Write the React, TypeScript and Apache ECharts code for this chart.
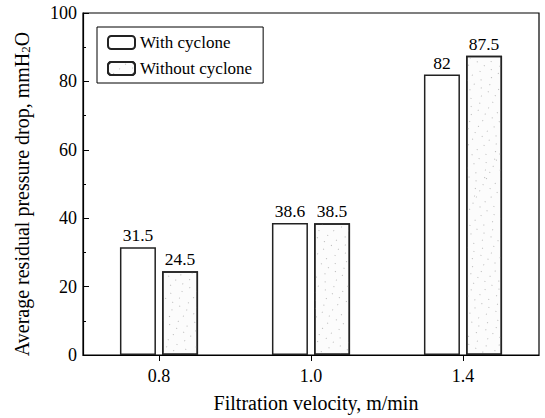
import React, { useEffect, useRef } from "react";
import * as echarts from "echarts";

const categories = ["0.8", "1.0", "1.4"];
const withCyclone = [31.5, 38.6, 82];
const withoutCyclone = [24.5, 38.5, 87.5];
const yTicks = [0, 20, 40, 60, 80, 100];

const FONT = "Liberation Serif";

export default function App() {
  const ref = useRef<HTMLDivElement>(null);
  useEffect(() => {
    if (!ref.current) return;
    const chart = echarts.init(ref.current, null, { renderer: "svg" });
    const labelStyle = {
      show: true,
      position: "top",
      distance: 3,
      fontFamily: FONT,
      fontSize: 17.5,
      color: "#000",
    };
    chart.setOption({
      animation: false,
      textStyle: { fontFamily: FONT, color: "#000" },
      grid: {
        left: 83,
        right: 6,
        top: 13,
        bottom: 62,
        show: true,
        borderColor: "#000",
        borderWidth: 1.2,
      },
      legend: {
        orient: "vertical",
        left: 97,
        top: 27,
        itemWidth: 27,
        itemHeight: 13,
        itemGap: 9,
        padding: [7, 11, 6, 10],
        borderColor: "#000",
        borderWidth: 1,
        backgroundColor: "#fff",
        textStyle: { fontFamily: FONT, fontSize: 17, color: "#000" },
        data: ["With cyclone", "Without cyclone"],
      },
      xAxis: {
        type: "category",
        data: categories,
        name: "Filtration velocity, m/min",
        nameLocation: "middle",
        nameGap: 38,
        nameTextStyle: { fontFamily: FONT, fontSize: 20, color: "#000", padding: [0, 0, 0, 10] },
        axisLine: { lineStyle: { color: "#000", width: 1.2 } },
        axisTick: { show: true, alignWithLabel: true, length: 6, lineStyle: { color: "#000" } },
        axisLabel: { fontFamily: FONT, fontSize: 18, color: "#000", margin: 12 },
      },
      yAxis: {
        type: "value",
        min: yTicks[0],
        max: yTicks[yTicks.length - 1],
        interval: 20,
        name: "{a|Average residual pressure drop, mmH}{s|2}{a|O}",
        nameLocation: "middle",
        nameGap: 51,
        nameTextStyle: {
          fontFamily: FONT,
          fontSize: 20,
          color: "#000",
          padding: [0, 20, 0, 0],
          rich: {
            a: { fontFamily: FONT, fontSize: 20, color: "#000" },
            s: { fontFamily: FONT, fontSize: 13, color: "#000", verticalAlign: "bottom", padding: [8, 0, 0, 0] },
          },
        },
        axisLine: { show: true, lineStyle: { color: "#000", width: 1.2 } },
        axisTick: { show: true, inside: true, length: 6, lineStyle: { color: "#000" } },
        minorTick: { show: true, splitNumber: 2, length: 3, lineStyle: { color: "#000" } },
        splitLine: { show: false },
        axisLabel: { fontFamily: FONT, fontSize: 18, color: "#000", margin: 6 },
      },
      series: [
        {
          name: "With cyclone",
          type: "bar",
          data: withCyclone,
          barWidth: 36,
          barGap: "17%",
          itemStyle: { color: "#fff", borderColor: "#222", borderWidth: 1.5 },
          label: labelStyle,
        },
        {
          name: "Without cyclone",
          type: "bar",
          data: withoutCyclone,
          barWidth: 36,
          itemStyle: {
            color: "#fcfcfc",
            borderColor: "#222",
            borderWidth: 1.5,
            decal: {
              symbol: "rect",
              symbolSize: 1,
              color: "#b8b8b8",
              backgroundColor: "#fcfcfc",
              dashArrayX: [[1, 7], [1, 12], [1, 9]],
              dashArrayY: [1, 6],
              rotation: 0.5,
            },
          },
          label: labelStyle,
        },
      ],
    });
    return () => chart.dispose();
  }, []);
  return <div ref={ref} style={{ width: 545, height: 418, position: "absolute", left: 0, top: 0, background: "#fff" }} />;
}
